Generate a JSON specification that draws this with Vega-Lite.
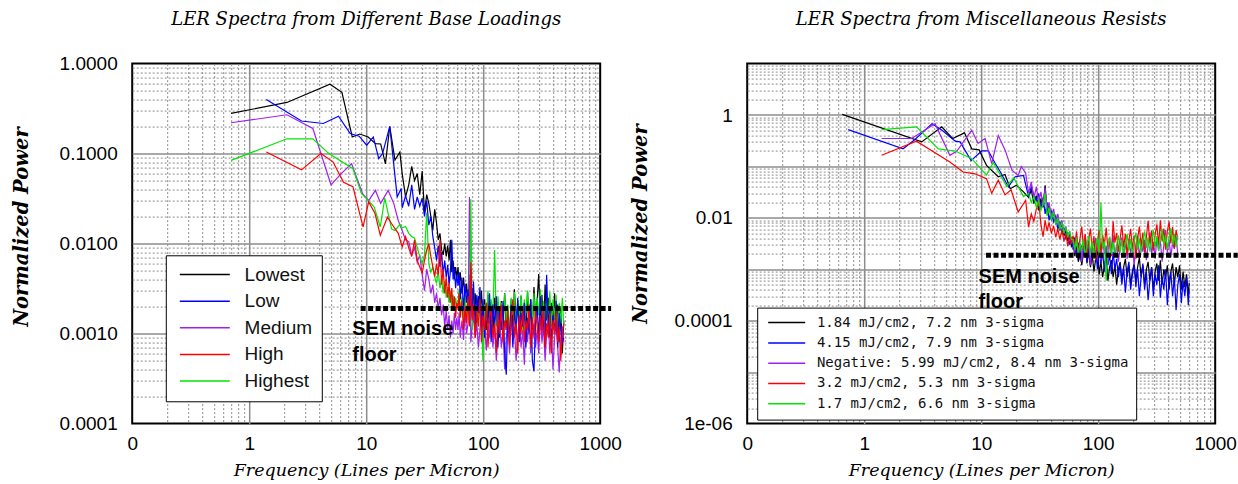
{
"$schema": "https://vega.github.io/schema/vega-lite/v6.json",
"background": "white",
"padding": {"left": 10.2, "top": 9.6, "right": 0, "bottom": 0},
"config": {
  "view": {"stroke": "black", "strokeWidth": 2},
  "title": {"font": "DejaVu Serif", "fontStyle": "italic", "fontWeight": "normal", "fontSize": 18, "color": "black", "baseline": "alphabetic", "offset": 26, "frame": "group", "anchor": "middle"},
  "axis": {"ticks": false, "domain": false, "labelFont": "Liberation Sans", "labelFontSize": 19, "labelColor": "black", "labelFlush": false, "labelOverlap": false, "labelBound": false, "titleColor": "black", "gridColor": "#8c8c8c"}
},
"spacing": 147,
"bounds": "flush",
"resolve": {"scale": {"color": "independent", "x": "independent", "y": "independent"}, "legend": {"color": "independent"}},
"hconcat": [
{
  "width": 468, "height": 360,
  "title": {"text": "LER Spectra from Different Base Loadings"},
  "encoding": {
    "x": {"field": "f", "type": "quantitative", "scale": {"type": "log", "domain": [0.1, 1000], "nice": false},
      "axis": {"values": [0.1,0.2,0.3,0.4,0.5,0.6,0.7,0.8,0.9,1,2,3,4,5,6,7,8,9,10,20,30,40,50,60,70,80,90,100,200,300,400,500,600,700,800,900,1000],
        "labelExpr": "datum.value == 0.1 ? '0' : datum.value == 1 ? '1' : datum.value == 10 ? '10' : datum.value == 100 ? '100' : datum.value == 1000 ? '1000' : ''",
        "labelPadding": 11,
        "gridDash": {"condition": {"test": "datum.value == 1 || datum.value == 10 || datum.value == 100", "value": []}, "value": [2, 2]},
        "gridWidth": {"condition": {"test": "datum.value == 1 || datum.value == 10 || datum.value == 100", "value": 1.5}, "value": 1},
        "gridOpacity": {"condition": {"test": "datum.value == 0.1 || datum.value == 1000", "value": 0}, "value": 1},
        "title": "Frequency (Lines per Micron)", "titleFont": "DejaVu Serif", "titleFontStyle": "italic", "titleFontWeight": "normal", "titleFontSize": 17.5, "titleBaseline": "alphabetic", "titleY": 52}},
    "y": {"field": "p", "type": "quantitative", "scale": {"type": "log", "domain": [0.0001, 1], "nice": false},
      "axis": {"values": [0.0001,0.0002,0.0003,0.0004,0.0005,0.0006,0.0007,0.0008,0.0009,0.001,0.002,0.003,0.004,0.005,0.006,0.007,0.008,0.009,0.01,0.02,0.03,0.04,0.05,0.06,0.07,0.08,0.09,0.1,0.2,0.3,0.4,0.5,0.6,0.7,0.8,0.9,1],
        "labelExpr": "datum.value == 1 ? '1.0000' : datum.value == 0.1 ? '0.1000' : datum.value == 0.01 ? '0.0100' : datum.value == 0.001 ? '0.0010' : datum.value == 0.0001 ? '0.0001' : ''",
        "labelPadding": 15,
        "gridDash": {"condition": {"test": "datum.value == 0.001 || datum.value == 0.01 || datum.value == 0.1", "value": []}, "value": [2, 2]},
        "gridWidth": {"condition": {"test": "datum.value == 0.001 || datum.value == 0.01 || datum.value == 0.1", "value": 1.5}, "value": 1},
        "gridOpacity": {"condition": {"test": "datum.value == 0.0001 || datum.value == 1", "value": 0}, "value": 1},
        "title": "Normalized Power", "titleFont": "DejaVu Serif", "titleFontStyle": "italic", "titleFontWeight": "bold", "titleFontSize": 19.5, "titleAngle": 270, "titleAlign": "center", "titleBaseline": "alphabetic", "titleX": -104.7, "titleY": 163}}
  },
  "layer": [
    {
      "data": {"values": [
{"f":0.7,"a":0.28,"c":0.22,"e":0.084},
{"f":1.4,"b":0.4,"d":0.104},
{"f":2.1,"a":0.37,"c":0.27,"e":0.146},
{"f":2.8,"b":0.23,"d":0.066},
{"f":3.5,"c":0.19,"e":0.146},
{"f":4.1,"d":0.1},
{"f":4.3,"b":0.216},
{"f":4.8,"e":0.1},
{"f":4.9,"a":0.59},
{"f":5.0,"c":0.045},
{"f":5.2,"d":0.081},
{"f":5.8,"b":0.26},
{"f":6.2,"a":0.48,"c":0.061},
{"f":6.4,"d":0.048},
{"f":7.3,"b":0.167},
{"f":7.5,"c":0.077},
{"f":7.6,"a":0.153},
{"f":7.7,"d":0.043,"e":0.068},
{"f":8.7,"b":0.156},
{"f":8.8,"a":0.165},
{"f":9.1,"e":0.036},
{"f":9.3,"c":0.036},
{"f":9.4,"d":0.0153},
{"f":10.1,"b":0.124},
{"f":10.4,"a":0.153,"e":0.03},
{"f":10.5,"c":0.03,"d":0.029},
{"f":11.5,"b":0.153},
{"f":11.7,"e":0.0255},
{"f":11.9,"d":0.0216},
{"f":12,"a":0.129,"c":0.039},
{"f":12.8,"b":0.088},
{"f":13.2,"d":0.0124,"e":0.0153},
{"f":13.3,"a":0.128,"c":0.028},
{"f":13.8,"b":0.1},
{"f":14.4,"e":0.032},
{"f":14.6,"a":0.077},
{"f":15.2,"d":0.0197},
{"f":15.4,"c":0.039},
{"f":15.9,"a":0.2,"b":0.2},
{"f":16.5,"d":0.0166,"e":0.0145},
{"f":17.2,"c":0.028},
{"f":17.6,"a":0.085,"e":0.014},
{"f":18.4,"b":0.033},
{"f":18.8,"c":0.018,"d":0.013},
{"f":19.4,"a":0.104,"e":0.0163},
{"f":19.9,"b":0.041},
{"f":20.3,"a":0.06,"b":0.025,"c":0.014,"d":0.0092,"e":0.015},
{"f":21.7,"a":0.033,"b":0.034,"c":0.011,"d":0.012,"e":0.0155},
{"f":23.1,"a":0.045,"b":0.026,"c":0.0105,"d":0.009,"e":0.013},
{"f":24.5,"a":0.072,"b":0.045,"c":0.0075,"d":0.0072,"e":0.012},
{"f":25.9,"a":0.05,"b":0.024,"c":0.009,"d":0.011,"e":0.0115},
{"f":27.3,"a":0.06,"b":0.033,"c":0.0062,"d":0.0065,"e":0.009},
{"f":28.7,"a":0.035,"b":0.026,"c":0.0075,"d":0.0055,"e":0.0072},
{"f":30.1,"a":0.064,"b":0.032,"c":0.0045,"d":0.0047,"e":0.006},
{"f":31.5,"a":0.022,"b":0.02,"c":0.003,"d":0.0065,"e":0.0075},
{"f":32.9,"a":0.035,"b":0.03,"c":0.0052,"d":0.0085,"e":0.022},
{"f":34.3,"a":0.028,"b":0.016,"c":0.004,"d":0.01,"e":0.006},
{"f":35.7,"a":0.02,"b":0.02,"c":0.0028,"d":0.0072,"e":0.0048},
{"f":37.1,"a":0.014,"b":0.012,"c":0.0035,"d":0.0055,"e":0.0055},
{"f":38.5,"a":0.024,"b":0.009,"c":0.0022,"d":0.0043,"e":0.0043},
{"f":39.9,"a":0.017,"b":0.0065,"c":0.0028,"d":0.006,"e":0.0036},
{"f":41.3,"a":0.011,"b":0.0095,"c":0.0019,"d":0.0045,"e":0.005},
{"f":42.7,"a":0.013,"b":0.0055,"c":0.0025,"d":0.011,"e":0.0032},
{"f":44.1,"a":0.0085,"b":0.008,"c":0.0016,"d":0.0035,"e":0.0042},
{"f":45.5,"a":0.0075,"b":0.0045,"c":0.0021,"d":0.0052,"e":0.0028},
{"f":46.9,"a":0.01,"b":0.0065,"c":0.0012,"d":0.0028,"e":0.0038},
{"f":48.3,"a":0.0072,"b":0.0042,"c":0.0018,"d":0.0042,"e":0.0025},
{"f":49.7,"a":0.0095,"b":0.0058,"c":0.0011,"d":0.0025,"e":0.0033},
{"f":51.1,"a":0.0065,"b":0.0035,"c":0.0016,"d":0.0036,"e":0.0022},
{"f":52.5,"a":0.011,"b":0.005,"c":0.0009,"d":0.0022,"e":0.003},
{"f":53.9,"a":0.0048,"b":0.011,"c":0.0014,"d":0.0032,"e":0.002},
{"f":55.3,"a":0.0065,"b":0.004,"c":0.001,"d":0.0018,"e":0.0027},
{"f":56.7,"a":0.004,"b":0.0055,"c":0.0017,"d":0.0026,"e":0.0019},
{"f":58.1,"a":0.0055,"b":0.0032,"c":0.0011,"d":0.0015,"e":0.0025},
{"f":59.5,"a":0.0042,"b":0.0045,"c":0.0015,"d":0.0022,"e":0.002},
{"f":60.9,"a":0.0055,"b":0.0034,"c":0.0011,"d":0.0019,"e":0.0022},
{"f":62.3,"a":0.0035,"b":0.0048,"c":0.0017,"d":0.0028,"e":0.0031},
{"f":63.7,"a":0.0048,"b":0.0024,"c":0.0009,"d":0.0015,"e":0.0017},
{"f":65.8,"a":0.0028,"b":0.0042,"c":0.0014,"d":0.0023,"e":0.0026},
{"f":67.9,"a":0.0042,"b":0.0018,"c":0.00085,"d":0.0011,"e":0.0014},
{"f":70,"a":0.0024,"b":0.0036,"c":0.0019,"d":0.002,"e":0.0029},
{"f":72.1,"a":0.0036,"b":0.0022,"c":0.001,"d":0.0013,"e":0.0016},
{"f":74.2,"a":0.0021,"b":0.0031,"c":0.0013,"d":0.0026,"e":0.0024},
{"f":76.3,"a":0.0045,"b":0.0016,"c":0.033,"d":0.0012,"e":0.0013},
{"f":78.4,"a":0.0019,"b":0.0052,"c":0.0008,"d":0.0062,"e":0.031},
{"f":80.5,"a":0.0032,"b":0.0015,"c":0.0012,"d":0.0014,"e":0.0011},
{"f":82.6,"a":0.0016,"b":0.0038,"c":0.0016,"d":0.0021,"e":0.0027},
{"f":85.4,"a":0.0028,"b":0.0012,"c":0.0009,"d":0.0009,"e":0.0015},
{"f":88.2,"a":0.0013,"b":0.0027,"c":0.0013,"d":0.0018,"e":0.0023},
{"f":91,"a":0.0026,"b":0.0017,"c":0.0007,"d":0.0012,"e":0.0012},
{"f":93.8,"a":0.0017,"b":0.0033,"c":0.0011,"d":0.0024,"e":0.0028},
{"f":96.6,"a":0.003,"b":0.0011,"c":0.0018,"d":0.0008,"e":0.0016},
{"f":99.4,"a":0.0012,"b":0.0024,"c":0.0008,"d":0.0016,"e":0.0005},
{"f":102.9,"a":0.0024,"b":0.0009,"c":0.0012,"d":0.0011,"e":0.0021},
{"f":106.4,"a":0.0011,"b":0.0019,"c":0.00065,"d":0.0022,"e":0.0014},
{"f":109.9,"a":0.0027,"b":0.0013,"c":0.0014,"d":0.0007,"e":0.003},
{"f":113.4,"a":0.0015,"b":0.0028,"c":0.0009,"d":0.0015,"e":0.0013},
{"f":116.9,"a":0.0022,"b":0.0008,"c":0.0016,"d":0.0019,"e":0.0024},
{"f":121.1,"a":0.001,"b":0.0021,"c":0.0007,"d":0.0009,"e":0.0016},
{"f":125.3,"a":0.0025,"b":0.0012,"c":0.0012,"d":0.0013,"e":0.0085},
{"f":129.5,"a":0.0014,"b":0.0026,"c":0.0005,"d":0.0006,"e":0.0012},
{"f":133.7,"a":0.0021,"b":0.0007,"c":0.001,"d":0.0017,"e":0.0026},
{"f":137.9,"a":0.0009,"b":0.0018,"c":0.0015,"d":0.001,"e":0.0015},
{"f":142.8,"a":0.0023,"b":0.0011,"c":0.0007,"d":0.0021,"e":0.0022},
{"f":147.7,"a":0.0013,"b":0.0023,"c":0.0011,"d":0.0008,"e":0.0011},
{"f":152.6,"a":0.0028,"b":0.0006,"c":0.0004,"d":0.0014,"e":0.0028},
{"f":157.5,"a":0.0011,"b":0.00035,"c":0.0009,"d":0.0011,"e":0.0014},
{"f":162.4,"a":0.0019,"b":0.0016,"c":0.0013,"d":0.0018,"e":0.0021},
{"f":168,"a":0.0008,"b":0.0009,"c":0.0006,"d":0.0007,"e":0.001},
{"f":173.6,"a":0.0024,"b":0.0021,"c":0.0017,"d":0.0015,"e":0.0025},
{"f":179.2,"a":0.0012,"b":0.0007,"c":0.0008,"d":0.0024,"e":0.0016},
{"f":184.8,"a":0.0031,"b":0.0019,"c":0.0012,"d":0.0009,"e":0.0029},
{"f":191.1,"a":0.0014,"b":0.001,"c":0.0005,"d":0.0013,"e":0.0012},
{"f":197.4,"a":0.0022,"b":0.0025,"c":0.001,"d":0.0006,"e":0.0023},
{"f":203.7,"a":0.001,"b":0.0008,"c":0.0014,"d":0.0016,"e":0.0015},
{"f":210.7,"a":0.0026,"b":0.0017,"c":0.0007,"d":0.001,"e":0.0027},
{"f":217.7,"a":0.0013,"b":0.0012,"c":0.0011,"d":0.0019,"e":0.0011},
{"f":224.7,"a":0.0021,"b":0.0022,"c":0.00045,"d":0.0008,"e":0.0024},
{"f":231.7,"a":0.0009,"b":0.0007,"c":0.0013,"d":0.0014,"e":0.0017},
{"f":239.4,"a":0.0029,"b":0.0015,"c":0.0008,"d":0.0011,"e":0.003},
{"f":247.1,"a":0.0012,"b":0.001,"c":0.0016,"d":0.0021,"e":0.0013},
{"f":254.8,"a":0.0024,"b":0.0024,"c":0.0006,"d":0.0007,"e":0.0022},
{"f":263.2,"a":0.0011,"b":0.0005,"c":0.001,"d":0.0015,"e":0.0015},
{"f":271.6,"a":0.0033,"b":0.00038,"c":0.0013,"d":0.0009,"e":0.0028},
{"f":280,"a":0.0015,"b":0.0013,"c":0.0007,"d":0.0018,"e":0.0012},
{"f":289.1,"a":0.0023,"b":0.002,"c":0.0011,"d":0.0012,"e":0.0025},
{"f":298.2,"a":0.0046,"b":0.0009,"c":0.0006,"d":0.0008,"e":0.0016},
{"f":308,"a":0.0013,"b":0.0026,"c":0.0015,"d":0.0016,"e":0.0031},
{"f":317.8,"a":0.0027,"b":0.0011,"c":0.0008,"d":0.001,"e":0.0013},
{"f":327.6,"a":0.001,"b":0.0018,"c":0.0012,"d":0.002,"e":0.0023},
{"f":338.1,"a":0.0035,"b":0.0007,"c":0.0005,"d":0.0007,"e":0.001},
{"f":348.6,"a":0.0014,"b":0.0045,"c":0.001,"d":0.0013,"e":0.0026},
{"f":359.8,"a":0.0025,"b":0.0012,"c":0.0014,"d":0.0009,"e":0.0015},
{"f":371,"a":0.0009,"b":0.002,"c":0.0006,"d":0.0017,"e":0.0029},
{"f":382.9,"a":0.0022,"b":0.0008,"c":0.0011,"d":0.0006,"e":0.0012},
{"f":394.8,"a":0.0012,"b":0.0016,"c":0.0004,"d":0.0014,"e":0.0024},
{"f":407.4,"a":0.0028,"b":0.001,"c":0.0009,"d":0.001,"e":0.0014},
{"f":420,"a":0.0011,"b":0.0023,"c":0.0013,"d":0.0018,"e":0.0027},
{"f":433.3,"a":0.0021,"b":0.0007,"c":0.0007,"d":0.0008,"e":0.0011},
{"f":446.6,"a":0.0008,"b":0.0017,"c":0.00037,"d":0.0012,"e":0.0022},
{"f":460.6,"a":0.0019,"b":0.0011,"c":0.0009,"d":0.0005,"e":0.0013},
{"f":474.6,"a":0.0006,"b":0.0008,"c":0.0012,"d":0.001,"e":0.0025},
{"f":488.6,"a":0.0014,"b":0.0009,"c":0.0008,"d":0.0013,"e":0.0012}
      ]},
      "transform": [
        {"fold": ["a", "b", "c", "d", "e"], "as": ["k", "p"]},
        {"filter": "isValid(datum.p)"},
        {"lookup": "k", "from": {"data": {"values": [{"k": "a", "name": "Lowest"}, {"k": "b", "name": "Low"}, {"k": "c", "name": "Medium"}, {"k": "d", "name": "High"}, {"k": "e", "name": "Highest"}]}, "key": "k", "fields": ["name"]}}
      ],
      "mark": {"type": "line", "strokeWidth": 1.2},
      "encoding": {
        "color": {"field": "name", "type": "nominal",
          "scale": {"domain": ["Lowest", "Low", "Medium", "High", "Highest"], "range": ["#000000", "#0000ff", "#a020f0", "#ff0000", "#00e600"]},
          "legend": {"title": null, "orient": "none", "legendX": 33.6, "legendY": 191.7, "symbolType": "stroke", "symbolSize": 2500, "symbolStrokeWidth": 1.5, "symbolOffset": 3.7, "labelOffset": 13.8, "labelFont": "Liberation Sans", "labelFontSize": 19, "labelColor": "#111111", "labelLimit": 300, "padding": 9.3, "rowPadding": 6.6, "clipHeight": 20, "strokeColor": "black", "fillColor": "white"}}
      }
    },
    {
      "data": {"values": [{"f": 8.96, "p": 0.0019}, {"f": 1240, "p": 0.0019}]},
      "mark": {"type": "line", "color": "black", "strokeWidth": 5, "strokeDash": [5, 2.5], "clip": false},
      "encoding": {}
    },
    {
      "data": {"values": [{"f": 7.6, "p": 0.00096, "t": "SEM noise\nfloor"}]},
      "mark": {"type": "text", "align": "left", "baseline": "alphabetic", "font": "Liberation Sans", "fontWeight": "bold", "fontSize": 20, "lineHeight": 25.5, "lineBreak": "\n", "color": "black", "clip": false},
      "encoding": {"text": {"field": "t"}}
    }
  ]
},
{
  "width": 468, "height": 360,
  "title": {"text": "LER Spectra from Miscellaneous Resists"},
  "encoding": {
    "x": {"field": "f", "type": "quantitative", "scale": {"type": "log", "domain": [0.1, 1000], "nice": false},
      "axis": {"values": [0.1,0.2,0.3,0.4,0.5,0.6,0.7,0.8,0.9,1,2,3,4,5,6,7,8,9,10,20,30,40,50,60,70,80,90,100,200,300,400,500,600,700,800,900,1000],
        "labelExpr": "datum.value == 0.1 ? '0' : datum.value == 1 ? '1' : datum.value == 10 ? '10' : datum.value == 100 ? '100' : datum.value == 1000 ? '1000' : ''",
        "labelPadding": 11,
        "gridDash": {"condition": {"test": "datum.value == 1 || datum.value == 10 || datum.value == 100", "value": []}, "value": [2, 2]},
        "gridWidth": {"condition": {"test": "datum.value == 1 || datum.value == 10 || datum.value == 100", "value": 1.5}, "value": 1},
        "gridOpacity": {"condition": {"test": "datum.value == 0.1 || datum.value == 1000", "value": 0}, "value": 1},
        "title": "Frequency (Lines per Micron)", "titleFont": "DejaVu Serif", "titleFontStyle": "italic", "titleFontWeight": "normal", "titleFontSize": 17.5, "titleBaseline": "alphabetic", "titleY": 52}},
    "y": {"field": "p", "type": "quantitative", "scale": {"type": "log", "domain": [0.000001, 10], "nice": false},
      "axis": {"values": [1e-6,2e-6,3e-6,4e-6,5e-6,6e-6,7e-6,8e-6,9e-6,1e-5,2e-5,3e-5,4e-5,5e-5,6e-5,7e-5,8e-5,9e-5,0.0001,0.0002,0.0003,0.0004,0.0005,0.0006,0.0007,0.0008,0.0009,0.001,0.002,0.003,0.004,0.005,0.006,0.007,0.008,0.009,0.01,0.02,0.03,0.04,0.05,0.06,0.07,0.08,0.09,0.1,0.2,0.3,0.4,0.5,0.6,0.7,0.8,0.9,1,2,3,4,5,6,7,8,9,10],
        "labelExpr": "datum.value == 1 ? '1' : datum.value == 0.01 ? '0.01' : datum.value == 0.0001 ? '0.0001' : datum.value == 0.000001 ? '1e-06' : ''",
        "labelPadding": 15,
        "gridDash": {"condition": {"test": "datum.value == 0.00001 || datum.value == 0.0001 || datum.value == 0.001 || datum.value == 0.01 || datum.value == 0.1 || datum.value == 1", "value": []}, "value": [2, 2]},
        "gridWidth": {"condition": {"test": "datum.value == 0.00001 || datum.value == 0.0001 || datum.value == 0.001 || datum.value == 0.01 || datum.value == 0.1 || datum.value == 1", "value": 1.5}, "value": 1},
        "gridOpacity": {"condition": {"test": "datum.value == 0.000001 || datum.value == 10", "value": 0}, "value": 1},
        "title": "Normalized Power", "titleFont": "DejaVu Serif", "titleFontStyle": "italic", "titleFontWeight": "bold", "titleFontSize": 19.5, "titleAngle": 270, "titleAlign": "center", "titleBaseline": "alphabetic", "titleX": -101, "titleY": 160}}
  },
  "layer": [
    {
      "data": {"values": [
{"f":0.65,"a":1.03},
{"f":0.73,"b":0.52},
{"f":1.41,"c":0.35,"d":0.165,"e":0.52},
{"f":2.15,"b":0.22},
{"f":2.54,"c":0.35},
{"f":2.7,"b":0.33},
{"f":2.8,"d":0.31,"e":0.59},
{"f":3.1,"a":0.3},
{"f":3.8,"b":0.68},
{"f":4.03,"c":0.68},
{"f":4.3,"e":0.22},
{"f":4.6,"a":0.59,"b":0.51},
{"f":5.4,"c":0.165,"d":0.122},
{"f":5.7,"a":0.35},
{"f":6,"b":0.31,"e":0.2},
{"f":6.2,"c":0.2},
{"f":6.6,"b":0.3},
{"f":7,"d":0.078},
{"f":7.2,"a":0.45},
{"f":8.2,"b":0.13},
{"f":8.3,"a":0.22,"c":0.51,"e":0.142},
{"f":8.85,"d":0.072},
{"f":9.4,"c":0.28},
{"f":9.6,"a":0.21},
{"f":10.1,"b":0.2},
{"f":10.8,"c":0.35},
{"f":11.1,"a":0.105,"d":0.058,"e":0.068},
{"f":11.5,"b":0.2},
{"f":12.3,"c":0.114,"d":0.03},
{"f":12.7,"e":0.12},
{"f":13.2,"b":0.114},
{"f":14,"a":0.063,"c":0.4,"d":0.054},
{"f":14.5,"b":0.08,"e":0.07},
{"f":16,"a":0.07,"c":0.21,"d":0.028},
{"f":16.5,"e":0.041},
{"f":17.1,"b":0.04},
{"f":17.7,"a":0.037},
{"f":18,"d":0.035},
{"f":18.3,"c":0.085},
{"f":19,"e":0.06},
{"f":19.5,"b":0.063},
{"f":20,"a":0.043},
{"f":20.7,"c":0.067,"d":0.013},
{"f":22,"c":0.1},
{"f":23,"a":0.032,"b":0.067,"e":0.026},
{"f":24,"c":0.075,"d":0.022},
{"f":25.4,"a":0.025,"b":0.026,"c":0.03,"d":0.0066,"e":0.03},
{"f":26.8,"a":0.035,"b":0.04,"c":0.05,"d":0.012,"e":0.02},
{"f":28.2,"a":0.019,"b":0.028,"c":0.024,"d":0.0085,"e":0.026},
{"f":29.6,"a":0.027,"b":0.022,"c":0.04,"d":0.015,"e":0.016},
{"f":31,"a":0.014,"b":0.03,"c":0.02,"d":0.022,"e":0.022},
{"f":32.4,"a":0.024,"b":0.015,"c":0.032,"d":0.0075,"e":0.014},
{"f":33.8,"a":0.016,"b":0.025,"c":0.017,"d":0.0043,"e":0.019},
{"f":35.2,"a":0.043,"b":0.012,"c":0.038,"d":0.009,"e":0.03},
{"f":36.6,"a":0.012,"b":0.02,"c":0.015,"d":0.0055,"e":0.011},
{"f":38,"a":0.018,"b":0.009,"c":0.02,"d":0.0082,"e":0.016},
{"f":39.8,"a":0.009,"b":0.014,"c":0.011,"d":0.005,"e":0.0095},
{"f":41.6,"a":0.013,"b":0.0085,"c":0.015,"d":0.007,"e":0.013},
{"f":43.4,"a":0.0075,"b":0.011,"c":0.008,"d":0.0042,"e":0.0075},
{"f":45.2,"a":0.01,"b":0.006,"c":0.012,"d":0.0062,"e":0.01},
{"f":47,"a":0.006,"b":0.0085,"c":0.0065,"d":0.0038,"e":0.006},
{"f":49,"a":0.0078,"b":0.0048,"c":0.009,"d":0.0058,"e":0.0082},
{"f":51,"a":0.0045,"b":0.0065,"c":0.005,"d":0.0035,"e":0.005},
{"f":53,"a":0.006,"b":0.0038,"c":0.0068,"d":0.005,"e":0.0065},
{"f":55,"a":0.0035,"b":0.0052,"c":0.0042,"d":0.0028,"e":0.0042},
{"f":57,"a":0.0048,"b":0.003,"c":0.0055,"d":0.0045,"e":0.0055},
{"f":59,"a":0.0028,"b":0.0042,"c":0.0036,"d":0.0032,"e":0.0038},
{"f":61,"a":0.0032,"b":0.0025,"c":0.0035,"d":0.0045,"e":0.0038},
{"f":63.1,"a":0.0018,"b":0.0042,"c":0.0021,"d":0.0028,"e":0.0024},
{"f":65.3,"a":0.0028,"b":0.0017,"c":0.0045,"d":0.0055,"e":0.0042},
{"f":67.6,"a":0.0014,"b":0.0033,"c":0.0018,"d":0.0022,"e":0.0019},
{"f":70,"a":0.0025,"b":0.0015,"c":0.0032,"d":0.0041,"e":0.0033},
{"f":72.4,"a":0.0012,"b":0.0029,"c":0.0014,"d":0.0068,"e":0.0022},
{"f":74.9,"a":0.0021,"b":0.0019,"c":0.0027,"d":0.0025,"e":0.0039},
{"f":77.5,"a":0.0035,"b":0.0036,"c":0.0048,"d":0.0048,"e":0.0017},
{"f":80.2,"a":0.0013,"b":0.0014,"c":0.0019,"d":0.0017,"e":0.0031},
{"f":83,"a":0.0022,"b":0.0027,"c":0.0036,"d":0.0038,"e":0.0045},
{"f":85.9,"a":0.0011,"b":0.0012,"c":0.0012,"d":0.0062,"e":0.002},
{"f":88.9,"a":0.0019,"b":0.0031,"c":0.0028,"d":0.0023,"e":0.0036},
{"f":92,"a":0.0009,"b":0.0016,"c":0.0017,"d":0.0044,"e":0.0016},
{"f":95.2,"a":0.0016,"b":0.0024,"c":0.0041,"d":0.0015,"e":0.0029},
{"f":98.5,"a":0.0024,"b":0.001,"c":0.0022,"d":0.0035,"e":0.0041},
{"f":102,"a":0.0008,"b":0.0028,"c":0.0033,"d":0.0058,"e":0.0018},
{"f":105.5,"a":0.0014,"b":0.0013,"c":0.0015,"d":0.0021,"e":0.02},
{"f":109.2,"a":0.0007,"b":0.0021,"c":0.0038,"d":0.0047,"e":0.0025},
{"f":113,"a":0.0012,"b":0.0009,"c":0.002,"d":0.0029,"e":0.0035},
{"f":117,"a":0.0018,"b":0.0025,"c":0.0029,"d":0.0065,"e":0.0006},
{"f":121,"a":0.0006,"b":0.0012,"c":0.0013,"d":0.0024,"e":0.0028},
{"f":125.3,"a":0.0011,"b":0.0019,"c":0.0035,"d":0.0042,"e":0.0043},
{"f":129.7,"a":0.0015,"b":0.0008,"c":0.0024,"d":0.0018,"e":0.002},
{"f":134.2,"a":0.0007,"b":0.0022,"c":0.0046,"d":0.0086,"e":0.0034},
{"f":138.9,"a":0.0012,"b":0.001,"c":0.0018,"d":0.0033,"e":0.0017},
{"f":143.8,"a":0.0005,"b":0.0016,"c":0.003,"d":0.0051,"e":0.003},
{"f":148.8,"a":0.001,"b":0.0007,"c":0.0014,"d":0.0022,"e":0.0046},
{"f":154,"a":0.0014,"b":0.0013,"c":0.0027,"d":0.004,"e":0.0021},
{"f":159.4,"a":0.0006,"b":0.0005,"c":0.0042,"d":0.0072,"e":0.0037},
{"f":165,"a":0.0011,"b":0.0011,"c":0.0019,"d":0.0027,"e":0.0018},
{"f":170.8,"a":0.0016,"b":0.00035,"c":0.0033,"d":0.0049,"e":0.0032},
{"f":176.8,"a":0.0007,"b":0.0009,"c":0.0016,"d":0.0019,"e":0.0049},
{"f":183,"a":0.0012,"b":0.0014,"c":0.0039,"d":0.0037,"e":0.0023},
{"f":189.4,"a":0.0005,"b":0.0004,"c":0.0021,"d":0.0061,"e":0.0039},
{"f":196,"a":0.0009,"b":0.0008,"c":0.0031,"d":0.0025,"e":0.0019},
{"f":202.9,"a":0.0013,"b":0.0012,"c":0.0012,"d":0.0046,"e":0.0034},
{"f":210,"a":0.0006,"b":0.00045,"c":0.0028,"d":0.0016,"e":0.0052},
{"f":217.3,"a":0.0011,"b":0.001,"c":0.0045,"d":0.0039,"e":0.0024},
{"f":224.9,"a":0.0017,"b":0.0003,"c":0.0017,"d":0.0068,"e":0.004},
{"f":232.8,"a":0.0007,"b":0.0007,"c":0.0034,"d":0.0028,"e":0.0021},
{"f":240.9,"a":0.0012,"b":0.0013,"c":0.0022,"d":0.0052,"e":0.0036},
{"f":249.4,"a":0.0005,"b":0.0004,"c":0.0037,"d":0.0021,"e":0.0055},
{"f":258.1,"a":0.001,"b":0.0009,"c":0.0015,"d":0.0043,"e":0.0026},
{"f":267.1,"a":0.0014,"b":0.00025,"c":0.0029,"d":0.0088,"e":0.0042},
{"f":276.5,"a":0.0006,"b":0.0006,"c":0.0052,"d":0.0031,"e":0.0022},
{"f":286.2,"a":0.0011,"b":0.0011,"c":0.002,"d":0.0057,"e":0.0038},
{"f":296.2,"a":0.0004,"b":0.0003,"c":0.0034,"d":0.0023,"e":0.0058},
{"f":306.6,"a":0.0009,"b":0.0008,"c":0.0016,"d":0.0047,"e":0.0027},
{"f":317.3,"a":0.0013,"b":0.0005,"c":0.0041,"d":0.0075,"e":0.0044},
{"f":328.4,"a":0.0006,"b":0.0012,"c":0.0023,"d":0.0029,"e":0.0023},
{"f":339.9,"a":0.0015,"b":0.00028,"c":0.0036,"d":0.009,"e":0.004},
{"f":351.8,"a":0.0005,"b":0.0007,"c":0.0014,"d":0.0035,"e":0.0061},
{"f":364.1,"a":0.001,"b":0.0004,"c":0.003,"d":0.0062,"e":0.0029},
{"f":376.8,"a":0.0007,"b":0.001,"c":0.0058,"d":0.0024,"e":0.0047},
{"f":390,"a":0.0012,"b":0.0002,"c":0.0021,"d":0.0055,"e":0.0025},
{"f":403.6,"a":0.0004,"b":0.0006,"c":0.0038,"d":0.0085,"e":0.0042},
{"f":417.8,"a":0.0009,"b":0.0009,"c":0.0017,"d":0.0032,"e":0.0063},
{"f":432.4,"a":0.0013,"b":0.0003,"c":0.0033,"d":0.0066,"e":0.003},
{"f":447.5,"a":0.0005,"b":0.0007,"c":0.0025,"d":0.0026,"e":0.0049},
{"f":463.2,"a":0.0011,"b":0.00016,"c":0.0044,"d":0.0058,"e":0.0027},
{"f":479.4,"a":0.0007,"b":0.0005,"c":0.0019,"d":0.0038,"e":0.0045},
{"f":496.2,"a":0.0012,"b":0.0008},
{"f":513.6,"a":0.0004,"b":0.00022},
{"f":531.5,"a":0.0009,"b":0.0006},
{"f":550.1,"a":0.00045,"b":0.0003},
{"f":569.4,"a":0.0008,"b":0.0007},
{"f":589.3,"a":0.0003,"b":0.0002},
{"f":600,"a":0.00055,"b":0.0004}
      ]},
      "transform": [
        {"fold": ["a", "b", "c", "d", "e"], "as": ["k", "p"]},
        {"filter": "isValid(datum.p)"},
        {"lookup": "k", "from": {"data": {"values": [{"k": "a", "name": "1.84 mJ/cm2, 7.2 nm 3-sigma"}, {"k": "b", "name": "4.15 mJ/cm2, 7.9 nm 3-sigma"}, {"k": "c", "name": "Negative: 5.99 mJ/cm2, 8.4 nm 3-sigma"}, {"k": "d", "name": "3.2 mJ/cm2, 5.3 nm 3-sigma"}, {"k": "e", "name": "1.7 mJ/cm2, 6.6 nm 3-sigma"}]}, "key": "k", "fields": ["name"]}}
      ],
      "mark": {"type": "line", "strokeWidth": 1.2},
      "encoding": {
        "color": {"field": "name", "type": "nominal",
          "scale": {"domain": ["1.84 mJ/cm2, 7.2 nm 3-sigma", "4.15 mJ/cm2, 7.9 nm 3-sigma", "Negative: 5.99 mJ/cm2, 8.4 nm 3-sigma", "3.2 mJ/cm2, 5.3 nm 3-sigma", "1.7 mJ/cm2, 6.6 nm 3-sigma"], "range": ["#000000", "#0000ff", "#a020f0", "#ff0000", "#00e600"]},
          "legend": {"title": null, "orient": "none", "legendX": 10, "legendY": 244, "symbolType": "stroke", "symbolSize": 1369, "symbolStrokeWidth": 1.5, "symbolOffset": 3, "labelOffset": 10.7, "labelFont": "DejaVu Sans Mono", "labelFontSize": 14, "labelColor": "#111111", "labelLimit": 400, "padding": 7, "rowPadding": 4.3, "clipHeight": 16, "strokeColor": "black", "fillColor": "white"}}
      }
    },
    {
      "data": {"values": [{"f": 11, "p": 0.00188}, {"f": 1560, "p": 0.00188}]},
      "mark": {"type": "line", "color": "black", "strokeWidth": 5, "strokeDash": [5, 2.5], "clip": false},
      "encoding": {}
    },
    {
      "data": {"values": [{"f": 9.5, "p": 0.00054, "t": "SEM noise\nfloor"}]},
      "mark": {"type": "text", "align": "left", "baseline": "alphabetic", "font": "Liberation Sans", "fontWeight": "bold", "fontSize": 20, "lineHeight": 25, "lineBreak": "\n", "color": "black", "clip": false},
      "encoding": {"text": {"field": "t"}}
    }
  ]
}
]
}
